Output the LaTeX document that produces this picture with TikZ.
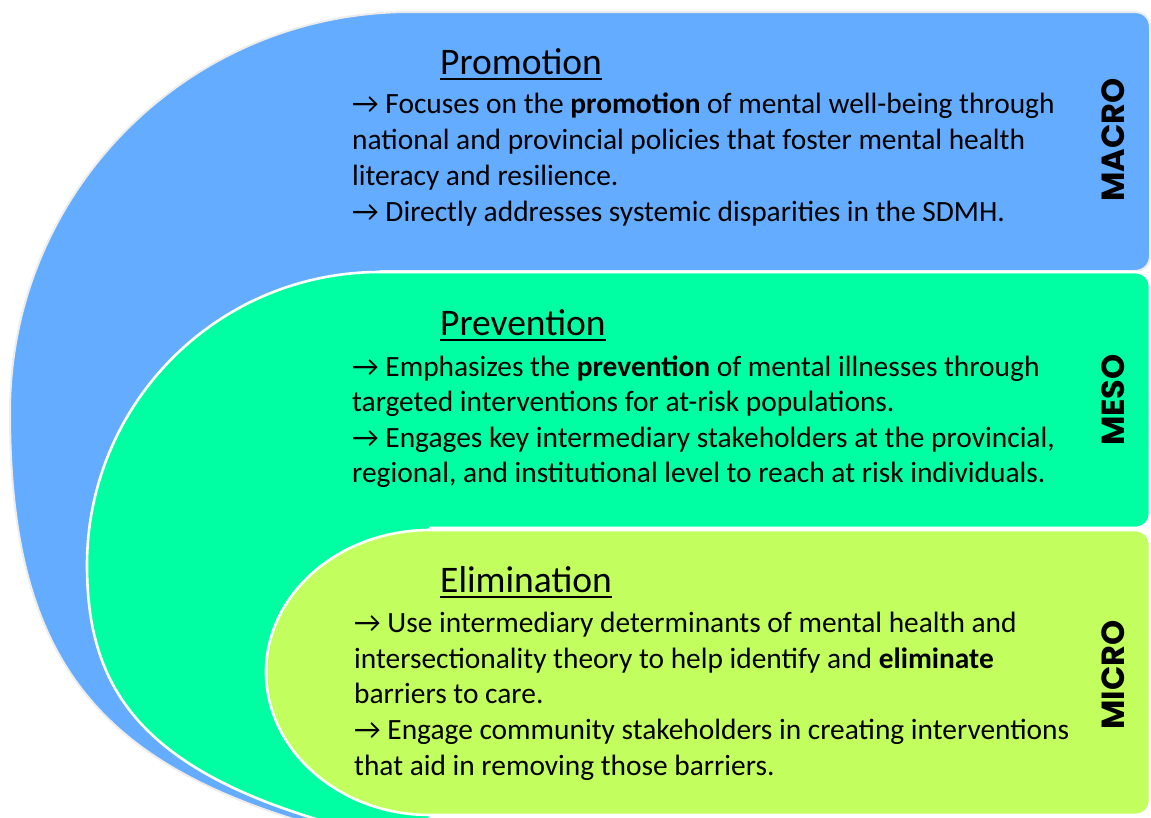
\documentclass[tikz,border=0pt]{standalone}
\usepackage{fontspec}
\setmainfont{Carlito}
\newfontfamily\labelfont{Poppins}
\usetikzlibrary{calc}
\definecolor{macroblue}{RGB}{100,172,255}
\definecolor{mesogreen}{RGB}{0,255,163}
\definecolor{microlime}{RGB}{194,255,94}

\begin{document}
\begin{tikzpicture}[x=1pt,y=-1pt,
  band/.style={draw=white, line width=2.6pt, line join=round},
  headline/.style={anchor=base west, inner sep=0pt, font=\fontsize{37.5}{44}\selectfont},
  bodyline/.style={anchor=base west, inner sep=0pt, font=\fontsize{29.4}{36}\selectfont},
  levellabel/.style={rotate=90, inner sep=0pt, font=\labelfont\bfseries\fontsize{32}{38}\selectfont},
  rule/.style={line width=1.5pt}]
\useasboundingbox (0,0) rectangle (1151,817);
\clip (0,0) rectangle (1151,817);

% outer band: macro level
\filldraw[fill=macroblue, draw=black!7, line width=2pt, line join=round]
  (1134,12) -- (410,12)
  .. controls (189,12) and (10,191) .. (10,412)
  .. controls (10,680) and (110,790) .. (420,850)
  -- (380,850) -- (380,271) -- (1134,271)
  .. controls (1144,271) and (1150,265) .. (1150,255)
  -- (1150,28) .. controls (1150,18) and (1144,12) .. (1134,12) -- cycle;

% middle band: meso level
\filldraw[fill=mesogreen, band]
  (1134,272) -- (380,272)
  .. controls (218,272) and (87,403) .. (87,565)
  .. controls (87,700) and (150,790) .. (420,845)
  -- (430,845) -- (430,528) -- (1134,528)
  .. controls (1144,528) and (1150,522) .. (1150,512)
  -- (1150,288) .. controls (1150,278) and (1144,272) .. (1134,272) -- cycle;

% inner band: micro level
\filldraw[fill=microlime, band]
  (1134,530) -- (430,530)
  .. controls (339,530) and (266,594) .. (266,672)
  .. controls (266,750) and (339,815) .. (430,815)
  -- (1134,815)
  .. controls (1144,815) and (1150,809) .. (1150,799)
  -- (1150,546) .. controls (1150,536) and (1144,530) .. (1134,530) -- cycle;

% headings
\node[headline] (promo) at (440,74) {Promotion};
\node[headline] (prev)  at (440,335) {Prevention};
\node[headline] (elim)  at (440,592) {Elimination};
\foreach \h in {promo,prev,elim}
  \draw[rule] ($(\h.base west)+(0,5)$) -- ($(\h.base east)+(0,5)$);

% promotion text
\node[bodyline] (pa) at (352,113) {→ Focuses on the \textbf{promotion} of mental well-being through};
\node[bodyline] (pb) at (352,149) {national and provincial policies that foster mental health};
\node[bodyline] (pc) at (352,185) {literacy and resilience.};
\node[bodyline] (pd) at (352,221) {→ Directly addresses systemic disparities in the SDMH.};

% prevention text
\node[bodyline] (va) at (352,376) {→ Emphasizes the \textbf{prevention} of mental illnesses through};
\node[bodyline] (vb) at (352,411) {targeted interventions for at-risk populations.};
\node[bodyline] (vc) at (352,447) {→ Engages key intermediary stakeholders at the provincial,};
\node[bodyline] (vd) at (352,482) {regional, and institutional level to reach at risk individuals.};

% elimination text
\node[bodyline] (ea) at (354,632) {→ Use intermediary determinants of mental health and};
\node[bodyline] (eb) at (354,668) {intersectionality theory to help identify and \textbf{eliminate}};
\node[bodyline] (ec) at (354,703) {barriers to care.};
\node[bodyline] (ed) at (354,739) {→ Engage community stakeholders in creating interventions};
\node[bodyline] (ee) at (354,775) {that aid in removing those barriers.};

% level labels
\node[levellabel] (macro) at (1113,140) {MACRO};
\node[levellabel] (meso)  at (1113,400) {MESO};
\node[levellabel] (micro) at (1113,675) {MICRO};
\end{tikzpicture}
\end{document}
